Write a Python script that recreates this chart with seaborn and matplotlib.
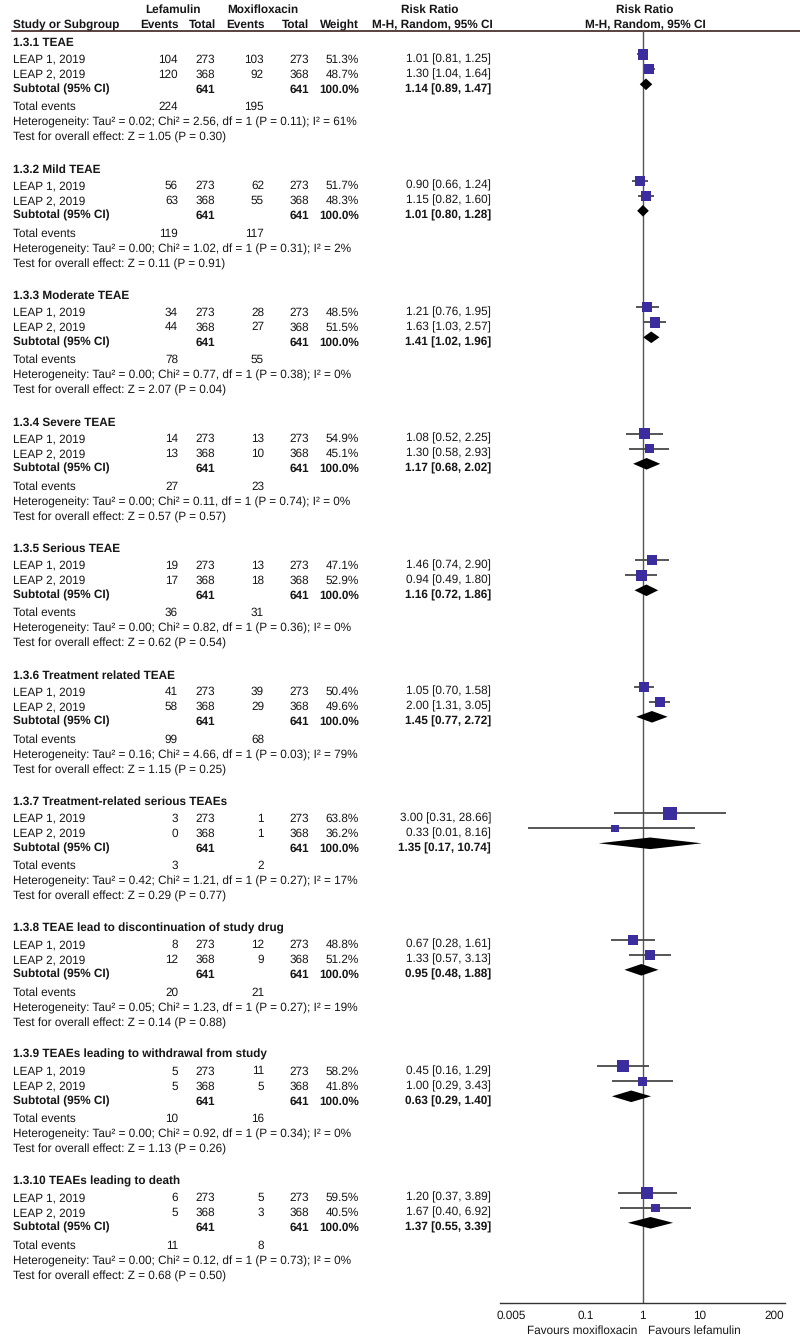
"""
Forest plot: lefamulin vs moxifloxacin, riesgo relativo por subgrupo de TEAE.
"""

import matplotlib.pyplot as plt
import numpy as np
import pandas as pd
import seaborn as sns

# ─── Datos ────────────────────────────────────────────────────────────────────
subgroups = [
    "1.3.1 TEAE",
    "1.3.2 Mild TEAE",
    "1.3.3 Moderate TEAE",
    "1.3.4 Severe TEAE",
    "1.3.5 Serious TEAE",
    "1.3.6 Treatment related TEAE",
    "1.3.7 Treatment-related serious TEAEs",
    "1.3.8 TEAE lead to discontinuation of study drug",
    "1.3.9 TEAEs leading to withdrawal from study",
    "1.3.10 TEAEs leading to death",
]
studies = ["LEAP 1, 2019", "LEAP 2, 2019"]
study_totals = [273, 368]

lef_events_1 = [104, 56, 34, 14, 19, 41, 3, 8, 5, 6]
lef_events_2 = [120, 63, 44, 13, 17, 58, 0, 12, 5, 5]
moxi_events_1 = [103, 62, 28, 13, 13, 39, 1, 12, 11, 5]
moxi_events_2 = [92, 55, 27, 10, 18, 29, 1, 9, 5, 3]

weight_1 = [51.3, 51.7, 48.5, 54.9, 47.1, 50.4, 63.8, 48.8, 58.2, 59.5]
weight_2 = [48.7, 48.3, 51.5, 45.1, 52.9, 49.6, 36.2, 51.2, 41.8, 40.5]

rr_1 = [1.01, 0.90, 1.21, 1.08, 1.46, 1.05, 3.00, 0.67, 0.45, 1.20]
lo_1 = [0.81, 0.66, 0.76, 0.52, 0.74, 0.70, 0.31, 0.28, 0.16, 0.37]
hi_1 = [1.25, 1.24, 1.95, 2.25, 2.90, 1.58, 28.66, 1.61, 1.29, 3.89]
rr_2 = [1.30, 1.15, 1.63, 1.30, 0.94, 2.00, 0.33, 1.33, 1.00, 1.67]
lo_2 = [1.04, 0.82, 1.03, 0.58, 0.49, 1.31, 0.01, 0.57, 0.29, 0.40]
hi_2 = [1.64, 1.60, 2.57, 2.93, 1.80, 3.05, 8.16, 3.13, 3.43, 6.92]

rr_sub = [1.14, 1.01, 1.41, 1.17, 1.16, 1.45, 1.35, 0.95, 0.63, 1.37]
lo_sub = [0.89, 0.80, 1.02, 0.68, 0.72, 0.77, 0.17, 0.48, 0.29, 0.55]
hi_sub = [1.47, 1.28, 1.96, 2.02, 1.86, 2.72, 10.74, 1.88, 1.40, 3.39]

tau2 = [0.02, 0.00, 0.00, 0.00, 0.00, 0.16, 0.42, 0.05, 0.00, 0.00]
chi2 = [2.56, 1.02, 0.77, 0.11, 0.82, 4.66, 1.21, 1.23, 0.92, 0.12]
p_het = [0.11, 0.31, 0.38, 0.74, 0.36, 0.03, 0.27, 0.27, 0.34, 0.73]
i2 = [61, 2, 0, 0, 0, 79, 17, 19, 0, 0]
z_val = [1.05, 0.11, 2.07, 0.57, 0.62, 1.15, 0.29, 0.14, 1.13, 0.68]
p_z = [0.30, 0.91, 0.04, 0.57, 0.54, 0.25, 0.77, 0.88, 0.26, 0.50]

x_ticks = [0.005, 0.1, 1, 10, 200]
x_tick_labels = ["0.005", "0.1", "1", "10", "200"]

# ─── Estilo ───────────────────────────────────────────────────────────────────
sns.set_theme(style="white")
plt.rcParams["font.family"] = ["Liberation Sans", "DejaVu Sans"]
plt.rcParams["text.hinting"] = "no_hinting"
FS = 8.5
TXT = "#161616"
SQUARE = "#3C2D9E"
CI_LINE = "#484848"

W, H = 800, 1337
fig = plt.figure(figsize=(W / 100, H / 100), dpi=100)

# Eje de texto en coordenadas de píxel
ax_t = fig.add_axes([0, 0, 1, 1])
ax_t.set_xlim(0, W)
ax_t.set_ylim(H, 0)
ax_t.axis("off")

# Eje del forest plot (escala log)
AX_TOP, AX_BOT = 30.5, 1303
AX_L, AX_R = 500, 785
X_ONE, DEC = 642.7, 57.3
ax = fig.add_axes([AX_L / W, (H - AX_BOT) / H, (AX_R - AX_L) / W, (AX_BOT - AX_TOP) / H])
ax.set_facecolor("none")
ax.set_xscale("log")
ax.set_xlim(10 ** ((AX_L - X_ONE) / DEC), 10 ** ((AX_R - X_ONE) / DEC))
ax.set_ylim(AX_BOT, AX_TOP)


def put(x, y, s, ha="left", bold=False):
    # y = centro de las mayúsculas; se pasa a línea base
    ax_t.text(x, y + 4.2, s, ha=ha, va="baseline", fontsize=FS, color=TXT,
              fontweight="bold" if bold else "normal")


# Cabecera
for x, s in [(173, "Lefamulin"), (263, "Moxifloxacin"), (430, "Risk Ratio"), (645, "Risk Ratio")]:
    put(x, 9, s, ha="center", bold=True)
put(13, 24, "Study or Subgroup", bold=True)
for x, s in [(179, "Events"), (216, "Total"), (265, "Events"), (309, "Total"), (359, "Weight")]:
    put(x, 24, s, ha="right", bold=True)
put(432, 24, "M-H, Random, 95% CI", ha="center", bold=True)
put(645, 24, "M-H, Random, 95% CI", ha="center", bold=True)
ax_t.plot([12, W], [30.5, 30.5], color="#4a3530", lw=1.3)

# Columnas
X_LE, X_LT, X_ME, X_MT, X_W, X_RR = 178, 215, 264, 309, 359, 491
BLOCK0, PITCH = 41.7, 126.5
OFF = [0, 16.6, 31.6, 46.6, 64.3, 80.0, 95.0]
MARK_SHIFT = -4

rows = []
diamonds = []
for k, name in enumerate(subgroups):
    y0 = BLOCK0 + PITCH * k
    ys = [y0 + o for o in OFF]
    put(13, ys[0], name, bold=True)

    per_study = [
        (lef_events_1[k], moxi_events_1[k], weight_1[k], rr_1[k], lo_1[k], hi_1[k]),
        (lef_events_2[k], moxi_events_2[k], weight_2[k], rr_2[k], lo_2[k], hi_2[k]),
    ]
    for j, (le, me, w, rr, lo, hi) in enumerate(per_study):
        y = ys[1 + j]
        put(13, y, studies[j])
        put(X_LE, y, f"{le}", ha="right")
        put(X_LT, y, f"{study_totals[j]}", ha="right")
        put(X_ME, y, f"{me}", ha="right")
        put(X_MT, y, f"{study_totals[j]}", ha="right")
        put(X_W, y, f"{w:.1f}%", ha="right")
        put(X_RR, y, f"{rr:.2f} [{lo:.2f}, {hi:.2f}]", ha="right")
        rows.append({"y": y + MARK_SHIFT, "rr": rr, "lo": lo, "hi": hi, "weight": w})

    n_tot = sum(study_totals)
    ys_sub = ys[3]
    put(13, ys_sub, "Subtotal (95% CI)", bold=True)
    put(X_LT, ys_sub, f"{n_tot}", ha="right", bold=True)
    put(X_MT, ys_sub, f"{n_tot}", ha="right", bold=True)
    put(X_W, ys_sub, "100.0%", ha="right", bold=True)
    put(X_RR, ys_sub, f"{rr_sub[k]:.2f} [{lo_sub[k]:.2f}, {hi_sub[k]:.2f}]", ha="right", bold=True)
    diamonds.append((ys_sub + MARK_SHIFT, rr_sub[k], lo_sub[k], hi_sub[k]))

    put(13, ys[4], "Total events")
    put(X_LE, ys[4], f"{lef_events_1[k] + lef_events_2[k]}", ha="right")
    put(X_ME, ys[4], f"{moxi_events_1[k] + moxi_events_2[k]}", ha="right")
    put(13, ys[5], f"Heterogeneity: Tau\u00b2 = {tau2[k]:.2f}; Chi\u00b2 = {chi2[k]:.2f}, "
                   f"df = 1 (P = {p_het[k]:.2f}); I\u00b2 = {i2[k]}%")
    put(13, ys[6], f"Test for overall effect: Z = {z_val[k]:.2f} (P = {p_z[k]:.2f})")

df = pd.DataFrame(rows)
# lado del cuadrado (px) proporcional al peso, pasado a pt²
df["s"] = (df["weight"] * 0.205 * 0.72) ** 2

# ─── Forest plot ──────────────────────────────────────────────────────────────
ax.axvline(1, color="#555555", lw=1.0, zorder=1)
ax.hlines(df["y"], df["lo"], df["hi"], color=CI_LINE, lw=1.3, zorder=2)
sns.scatterplot(data=df, x="rr", y="y", marker="s", s=df["s"], color=SQUARE,
                linewidth=0, ax=ax, zorder=3, legend=False)
for y, rr, lo, hi in diamonds:
    ax.fill([lo, rr, hi, rr], [y, y - 5.8, y, y + 5.8], color="black", lw=0, zorder=4)

for side in ["top", "left", "right"]:
    ax.spines[side].set_visible(False)
ax.spines["bottom"].set_color("#333333")
ax.spines["bottom"].set_linewidth(1.0)
ax.set_xticks(x_ticks)
ax.set_xticklabels(x_tick_labels)
ax.minorticks_off()
ax.set_yticks([])
ax.set_xlabel("")
ax.set_ylabel("")
ax.tick_params(axis="x", direction="inout", length=5, width=1.0, pad=2.5,
               labelsize=FS, colors="#333333", labelcolor=TXT)
ax.grid(False)

put(637, 1330, "Favours moxifloxacin", ha="right")
put(648, 1330, "Favours lefamulin", ha="left")

fig.savefig("out.png", dpi=100)
